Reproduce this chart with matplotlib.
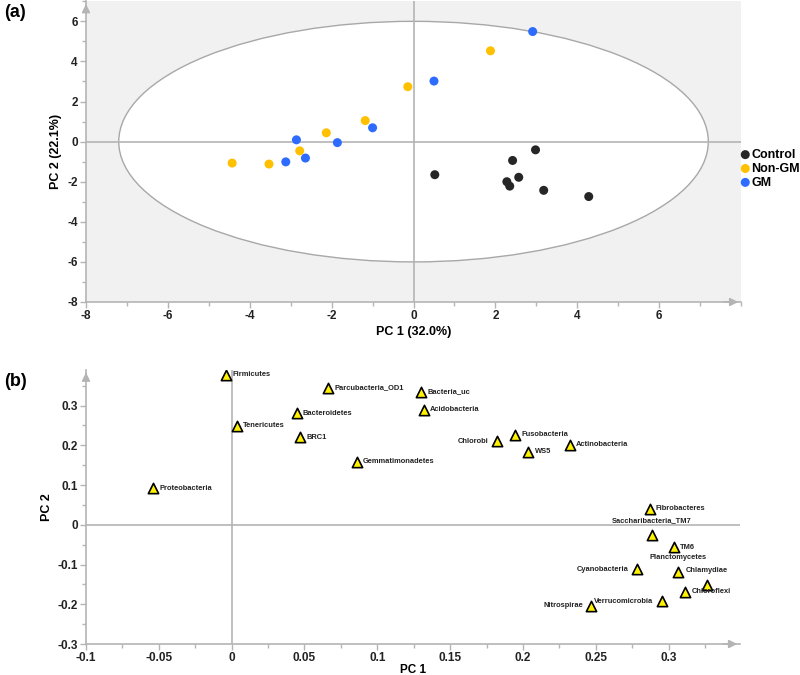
import matplotlib
matplotlib.use("Agg")
import matplotlib.pyplot as plt
from matplotlib.patches import Ellipse
from matplotlib.ticker import MultipleLocator

plt.rcParams['font.family'] = ['Liberation Sans', 'DejaVu Sans']
plt.rcParams['axes.unicode_minus'] = False

# ---- Panel (a) data: PCA scores ----
control_x = [0.52, 2.98, 2.42, 2.28, 2.35, 2.57, 3.18, 4.28]
control_y = [-1.65, -0.41, -0.94, -2.00, -2.22, -1.78, -2.43, -2.74]
nongm_x = [-4.43, -3.53, -2.78, -2.13, -1.18, -0.14, 1.88]
nongm_y = [-1.07, -1.12, -0.46, 0.44, 1.05, 2.74, 4.53]
gm_x = [-3.12, -2.86, -2.64, -1.86, -1.00, 0.50, 2.91]
gm_y = [-1.01, 0.09, -0.82, -0.05, 0.69, 3.02, 5.49]
group_names = ["Control", "Non-GM", "GM"]
group_colors = ["#262626", "#FFC000", "#2E6BFF"]
ellipse_w, ellipse_h = 7.2, 6.0

# ---- Panel (b) data: loadings ----
phyla = ["Firmicutes", "Parcubacteria_OD1", "Bacteroidetes", "Tenericutes", "BRC1",
         "Gemmatimonadetes", "Proteobacteria", "Bacteria_uc", "Acidobacteria", "Chlorobi",
         "Fusobacteria", "WS5", "Actinobacteria", "Fibrobacteres", "Saccharibacteria_TM7",
         "TM6", "Planctomycetes", "Chlamydiae", "Chloroflexi", "Cyanobacteria",
         "Verrucomicrobia", "Nitrospirae"]
pc1 = [-0.004, 0.066, 0.0446, 0.0034, 0.0471, 0.086, -0.0538, 0.130, 0.132, 0.182,
       0.1945, 0.2037, 0.232, 0.287, 0.2885, 0.3037, 0.3065, 0.3264, 0.3115, 0.2784,
       0.2954, 0.247]
pc2 = [0.377, 0.344, 0.281, 0.249, 0.220, 0.159, 0.092, 0.334, 0.289, 0.210,
       0.227, 0.184, 0.201, 0.040, -0.026, -0.056, -0.120, -0.152, -0.168, -0.112,
       -0.193, -0.204]
label_side = ["r", "r", "r", "r", "r", "r", "r", "r", "r", "l",
              "r", "r", "r", "r", "t", "r", "t", "t", "r", "l", "l", "l"]

GRAY = "#b4b4b4"
fig = plt.figure(figsize=(8, 6.75), dpi=100)

def style_axes(ax):
    for s in ["top", "right"]:
        ax.spines[s].set_visible(False)
    for s in ["left", "bottom"]:
        ax.spines[s].set_color(GRAY)
        ax.spines[s].set_linewidth(1.2)
    ax.tick_params(which="both", colors=GRAY, labelcolor="#222222", labelsize=8.5, width=1)
    ax.tick_params(which="major", length=4, pad=2)
    ax.tick_params(which="minor", length=3)
    for lab in ax.get_xticklabels() + ax.get_yticklabels():
        lab.set_fontweight("bold")
    ax.axhline(0, color=GRAY, lw=1.2, zorder=1)
    ax.axvline(0, color=GRAY, lw=1.2, zorder=1)
    ax.annotate("", xy=(1.0, 0), xytext=(0.97, 0), xycoords="axes fraction",
                arrowprops=dict(arrowstyle="-|>", color=GRAY, lw=1.2, mutation_scale=12),
                annotation_clip=False)
    ax.annotate("", xy=(0, 1.0), xytext=(0, 0.97), xycoords="axes fraction",
                arrowprops=dict(arrowstyle="-|>", color=GRAY, lw=1.2, mutation_scale=12),
                annotation_clip=False)

# ---- Panel (a) ----
axa = fig.add_axes([0.1075, 0.5526, 0.8188, 0.4455])
axa.set_xlim(-8, 8)
axa.set_ylim(-8, 7)
axa.set_facecolor("#f1f1f1")
axa.add_patch(Ellipse((0, 0), 2 * ellipse_w, 2 * ellipse_h, facecolor="white",
                      edgecolor="#a8a8a8", lw=1.0, zorder=0.5))
axa.xaxis.set_minor_locator(MultipleLocator(1))
axa.yaxis.set_major_locator(MultipleLocator(2))
axa.yaxis.set_minor_locator(MultipleLocator(1))
axa.set_xticks([-8, -6, -4, -2, 0, 2, 4, 6])
style_axes(axa)
for (xs, ys), name, col in zip([(control_x, control_y), (nongm_x, nongm_y), (gm_x, gm_y)],
                               group_names, group_colors):
    axa.scatter(xs, ys, s=42, color=col, label=name, zorder=3, edgecolors="none")
axa.set_xlabel("PC 1 (32.0%)", fontsize=9, fontweight="bold", labelpad=3)
axa.set_ylabel("PC 2 (22.1%)", fontsize=9, fontweight="bold", labelpad=4)
axa.legend(loc="center left", bbox_to_anchor=(0.995, 0.443), frameon=False,
           prop=dict(size=9, weight="bold"), handletextpad=0.0, borderpad=0.1,
           labelspacing=0.15, handlelength=1.0, borderaxespad=0.0)

# ---- Panel (b) ----
axb = fig.add_axes([0.1075, 0.0459, 0.8175, 0.4063])
axb.set_xlim(-0.1, 0.349)
axb.set_ylim(-0.3, 0.39)
axb.set_facecolor("white")
axb.xaxis.set_minor_locator(MultipleLocator(0.025))
axb.yaxis.set_minor_locator(MultipleLocator(0.05))
axb.set_xticks([-0.1, -0.05, 0, 0.05, 0.1, 0.15, 0.2, 0.25, 0.3])
axb.set_xticklabels(["-0.1", "-0.05", "0", "0.05", "0.1", "0.15", "0.2", "0.25", "0.3"])
axb.set_yticks([-0.3, -0.2, -0.1, 0, 0.1, 0.2, 0.3])
axb.set_yticklabels(["-0.3", "-0.2", "-0.1", "0", "0.1", "0.2", "0.3"])
style_axes(axb)
axb.scatter(pc1, pc2, marker="^", s=55, color="#FFF200", edgecolors="black",
            linewidths=1.2, zorder=3)
lab_font = dict(fontsize=5.4, fontweight="bold", color="#222222")
for name, x, y, side in zip(phyla, pc1, pc2, label_side):
    if side == "r":
        axb.annotate(name, (x, y), xytext=(4.5, 0), textcoords="offset points",
                     ha="left", va="center", **lab_font)
    elif side == "l":
        axb.annotate(name, (x, y), xytext=(-6, 0), textcoords="offset points",
                     ha="right", va="center", **lab_font)
    else:
        axb.annotate(name, (x, y), xytext=(0, 8), textcoords="offset points",
                     ha="center", va="bottom", **lab_font)
axb.set_xlabel("PC 1", fontsize=8.5, fontweight="bold", labelpad=0)
axb.set_ylabel("PC 2", fontsize=9, fontweight="bold", labelpad=3)

fig.text(0.005, 0.982, "(a)", fontsize=13, fontweight="bold", va="center", ha="left")
fig.text(0.005, 0.435, "(b)", fontsize=13, fontweight="bold", va="center", ha="left")

fig.savefig("out.png", dpi=100)
